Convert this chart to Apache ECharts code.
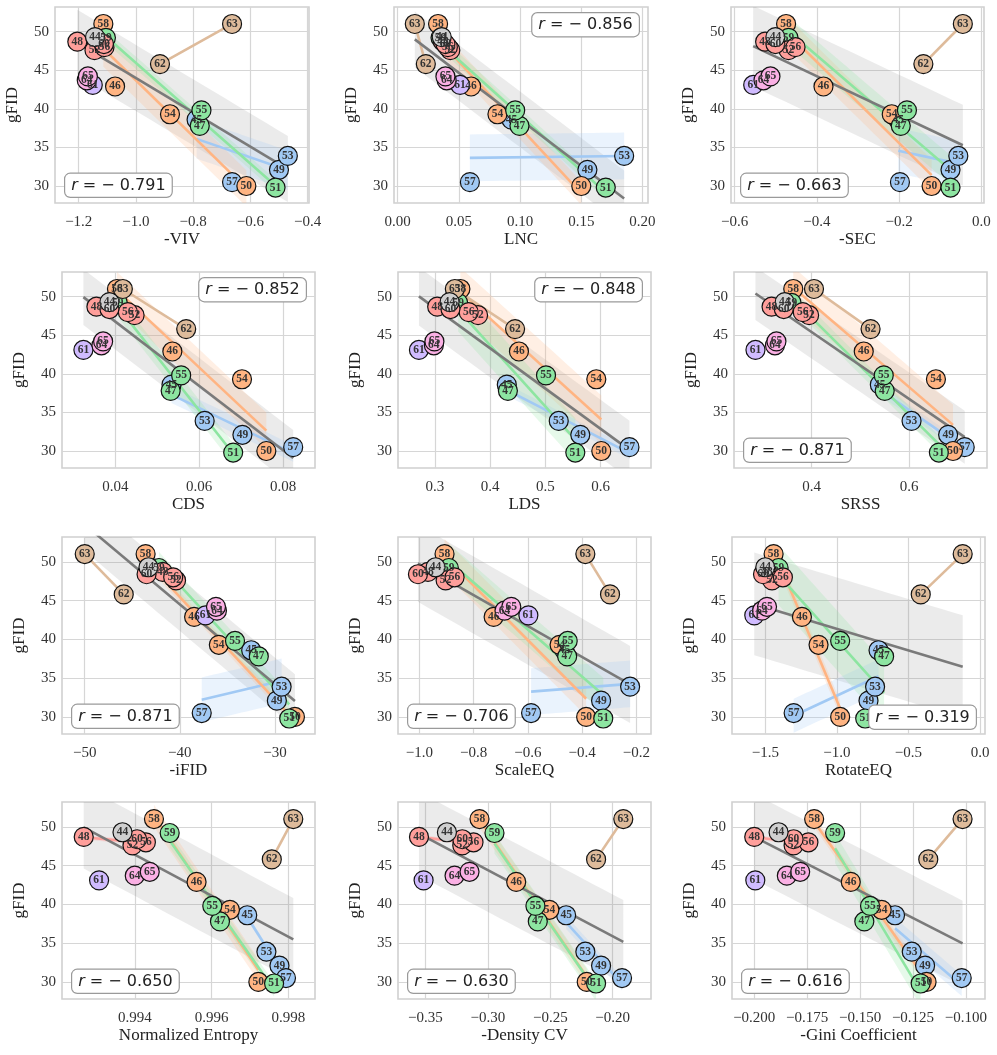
<!DOCTYPE html>
<html>
<head>
<meta charset="utf-8">
<script src="https://cdn.jsdelivr.net/npm/echarts@6/dist/echarts.min.js"></script>
<style>
  html, body { margin: 0; padding: 0; background: #fff; }
  #chart { width: 997px; height: 1055px; }
</style>
</head>
<body>
<div id="chart"></div>
<script>
// models and their gFID
const modelIds = [44, 45, 46, 47, 48, 49, 50, 51, 52, 53, 54, 55, 56, 57, 58, 59, 60, 61, 62, 63, 64, 65];
const gFID = [49.3, 38.6, 42.9, 37.8, 48.7, 32.1, 30.0, 29.8, 47.6, 33.9, 39.3, 39.8, 48.0, 30.5, 51.0, 49.2, 48.4, 43.1, 45.8, 51.0, 43.7, 44.2];
const modelGroup = ['gray', 'blue', 'orange', 'green', 'red', 'blue', 'orange', 'green', 'red', 'blue', 'orange',
  'green', 'red', 'blue', 'orange', 'green', 'red', 'purple', 'tan', 'tan', 'pink', 'pink'];

// metric values, same order as modelIds
const negVIV = [-1.143, -0.788, -1.073, -0.777, -1.205, -0.500, -0.614, -0.512, -1.145, -0.469, -0.881,
  -0.771, -1.110, -0.664, -1.114, -1.105, -1.112, -1.151, -0.916, -0.664, -1.172, -1.168];
const lnc = [0.036, 0.093, 0.060, 0.0995, 0.037, 0.155, 0.150, 0.170, 0.043, 0.185, 0.0815,
  0.096, 0.041, 0.059, 0.033, 0.035, 0.039, 0.051, 0.023, 0.014, 0.040, 0.039];
const negSEC = [-0.501, -0.202, -0.384, -0.196, -0.526, -0.075, -0.121, -0.075, -0.469, -0.056, -0.218,
  -0.181, -0.452, -0.198, -0.475, -0.469, -0.501, -0.555, -0.141, -0.045, -0.530, -0.513];
const cds = [0.0386, 0.0534, 0.0536, 0.0532, 0.0355, 0.0703, 0.0760, 0.0681, 0.0446, 0.0613, 0.0702,
  0.0557, 0.0430, 0.0824, 0.0404, 0.0406, 0.0386, 0.0324, 0.0569, 0.0418, 0.0367, 0.0371];
const lds = [0.3265, 0.430, 0.452, 0.432, 0.304, 0.563, 0.601, 0.554, 0.378, 0.524, 0.592,
  0.501, 0.361, 0.652, 0.346, 0.342, 0.328, 0.271, 0.445, 0.336, 0.298, 0.299];
const srss = [0.345, 0.540, 0.507, 0.550, 0.318, 0.680, 0.690, 0.661, 0.395, 0.605, 0.655,
  0.548, 0.382, 0.714, 0.3625, 0.359, 0.343, 0.285, 0.521, 0.405, 0.325, 0.328];
const negIFID = [-43.3, -32.5, -38.5, -31.7, -41.8, -29.8, -27.9, -28.5, -40.4, -29.3, -35.9,
  -34.2, -40.7, -37.7, -43.6, -42.2, -43.5, -37.3, -45.9, -50.0, -36.1, -36.2];
const scaleEQ = [-0.940, -0.465, -0.726, -0.455, -0.968, -0.330, -0.385, -0.322, -0.903, -0.223, -0.483,
  -0.453, -0.870, -0.588, -0.907, -0.891, -1.005, -0.598, -0.297, -0.388, -0.686, -0.661];
const rotateEQ = [-1.500, -0.709, -1.244, -0.670, -1.488, -0.779, -0.977, -0.802, -1.453, -0.733, -1.128,
  -0.977, -1.377, -1.302, -1.442, -1.407, -1.516, -1.577, -0.414, -0.121, -1.523, -1.488];
const normEntropy = [0.99368, 0.99693, 0.99561, 0.99622, 0.99267, 0.99777, 0.99722, 0.99763, 0.99394, 0.99743, 0.99648,
  0.99602, 0.99429, 0.99794, 0.99450, 0.99491, 0.99406, 0.99307, 0.99757, 0.99813, 0.99400, 0.99439];
const negDensityCV = [-0.3328, -0.2373, -0.2773, -0.2600, -0.3552, -0.2093, -0.2208, -0.2133, -0.3205, -0.2219, -0.2507,
  -0.2619, -0.3115, -0.1925, -0.3067, -0.2947, -0.3205, -0.3515, -0.2133, -0.1915, -0.3267, -0.3147];
const negGini = [-0.1885, -0.1335, -0.1544, -0.1480, -0.2000, -0.1193, -0.1186, -0.1214, -0.1814, -0.1256, -0.1398,
  -0.1453, -0.1744, -0.1020, -0.1717, -0.1618, -0.1814, -0.1995, -0.1178, -0.1016, -0.1846, -0.1783];

const metricValues = [negVIV, lnc, negSEC, cds, lds, srss, negIFID, scaleEQ, rotateEQ, normEntropy, negDensityCV, negGini];
const metricNames = ['-VIV', 'LNC', '-SEC', 'CDS', 'LDS', 'SRSS', '-iFID', 'ScaleEQ', 'RotateEQ',
  'Normalized Entropy', '-Density CV', '-Gini Coefficient'];
const rLabels = ['−0.791', '−0.856', '−0.663', '−0.852', '−0.848', '−0.871', '−0.871', '−0.706', '−0.319',
  '−0.650', '−0.630', '−0.616'];

// tick labels
const xTicks = [
  [-1.2, -1.0, -0.8, -0.6, -0.4], [0, 0.05, 0.10, 0.15, 0.20], [-0.6, -0.4, -0.2, 0],
  [0.04, 0.06, 0.08], [0.3, 0.4, 0.5, 0.6], [0.4, 0.6],
  [-50, -40, -30], [-1.0, -0.8, -0.6, -0.4, -0.2], [-1.5, -1.0, -0.5, 0],
  [0.994, 0.996, 0.998], [-0.35, -0.30, -0.25, -0.20], [-0.200, -0.175, -0.150, -0.125, -0.100]
];
const xDecimals = [1, 2, 1, 2, 1, 1, 0, 1, 1, 3, 2, 3];
const yTicks = [30, 35, 40, 45, 50];

// layout
const W = 997, H = 1055;
const xRanges = [
  [-1.283, -0.395], [-0.003, 0.2045], [-0.609, 0.0065],
  [0.0273, 0.0876], [0.2331, 0.691], [0.241, 0.7597],
  [-52.39, -25.79], [-1.0785, -0.146], [-1.7326, 0.0349],
  [0.992104, 0.998696], [-0.372, -0.1693], [-0.2105, -0.091]
];
const yRange = [27.8, 53.2];
const gridRects = [
  [55, 7, 254, 196], [394, 7, 254, 196], [731, 7, 253, 196],
  [62, 272, 253, 196], [398, 272, 253, 196], [734, 272, 253, 196],
  [62, 537, 253, 197], [398, 537, 253, 197], [732, 537, 253, 197],
  [62, 802, 253, 197], [398, 802, 253, 197], [732, 802, 253, 197]
];
const rCorner = ['bl', 'tr', 'bl', 'tr', 'tr', 'bl', 'bl', 'bl', 'br', 'bl', 'bl', 'bl'];

const groupOrder = ['blue', 'orange', 'green', 'red', 'purple', 'tan', 'pink', 'gray'];
const groupColor = {
  blue: '#a1c9f4', orange: '#ffb482', green: '#8de5a1', red: '#ff9f9b',
  purple: '#d0bbff', tan: '#debb9b', pink: '#fab0e4', gray: '#cfcfcf'
};
const bandColor = {
  blue: 'rgba(161,201,244,0.22)', orange: 'rgba(255,180,130,0.22)', green: 'rgba(141,229,161,0.22)',
  red: 'rgba(255,159,155,0.22)', purple: 'rgba(208,187,255,0.22)', tan: 'rgba(222,187,155,0.22)',
  pink: 'rgba(250,176,228,0.22)', gray: 'rgba(207,207,207,0.22)'
};

const serif = '"Liberation Serif", "DejaVu Serif", serif';

// least squares fit, band = fit ± std of residuals
function fitLine(xs, ys) {
  const n = xs.length;
  const mx = xs.reduce((a, b) => a + b, 0) / n;
  const my = ys.reduce((a, b) => a + b, 0) / n;
  let sxx = 0, sxy = 0;
  for (let i = 0; i < n; i++) {
    sxx += (xs[i] - mx) * (xs[i] - mx);
    sxy += (xs[i] - mx) * (ys[i] - my);
  }
  const b = sxy / sxx, a = my - b * mx;
  let sse = 0;
  xs.forEach((x, i) => { const e = ys[i] - (a + b * x); sse += e * e; });
  return { a, b, xs, sd: Math.sqrt(sse / n) };
}
function bandData(f) {
  const lo = Math.min(...f.xs), hi = Math.max(...f.xs);
  const out = [];
  for (let k = 0; k <= 20; k++) {
    const x = lo + (hi - lo) * k / 20;
    const y = f.a + f.b * x;
    out.push([x, y - f.sd, y + f.sd]);
  }
  return out;
}
function bandSeries(idx, data, color, z) {
  return {
    type: 'custom', xAxisIndex: idx, yAxisIndex: idx, silent: true, z: z, clip: true,
    data: data, encode: { x: 0, y: [1, 2] },
    renderItem: function (params, api) {
      if (params.dataIndex !== 0) return null;
      const up = data.map(d => api.coord([d[0], d[2]]));
      const dn = data.slice().reverse().map(d => api.coord([d[0], d[1]]));
      const cs = params.coordSys;
      return {
        type: 'polygon', shape: { points: up.concat(dn) }, style: { fill: color },
        clipPath: { type: 'rect', shape: { x: cs.x, y: cs.y, width: cs.width, height: cs.height } }
      };
    }
  };
}
function lineSeries(idx, f, color, z) {
  const lo = Math.min(...f.xs), hi = Math.max(...f.xs);
  return {
    type: 'line', xAxisIndex: idx, yAxisIndex: idx, silent: true, z: z, showSymbol: false, symbol: 'none',
    data: [[lo, f.a + f.b * lo], [hi, f.a + f.b * hi]],
    lineStyle: { color: color, width: 2.6 }
  };
}

const grids = [], xAxes = [], yAxes = [], series = [], graphics = [];

metricValues.forEach((xs, i) => {
  const [gl, gt, gw, gh] = gridRects[i];
  grids.push({
    left: gl, top: gt, width: gw, height: gh, show: true,
    borderColor: '#d0d0d0', borderWidth: 1.6, backgroundColor: '#fff'
  });
  const dec = xDecimals[i];
  xAxes.push({
    gridIndex: i, type: 'value', min: xRanges[i][0], max: xRanges[i][1],
    name: metricNames[i], nameLocation: 'middle', nameGap: 27,
    nameTextStyle: { fontFamily: serif, fontSize: 17, color: '#222' },
    axisLine: { show: false },
    axisTick: { show: false, customValues: xTicks[i] },
    axisLabel: {
      customValues: xTicks[i], margin: 12, fontFamily: serif, fontSize: 15, color: '#333',
      formatter: v => v.toFixed(dec).replace('-', '−')
    },
    splitLine: { show: true, lineStyle: { color: '#d6d6d6', width: 1.2 } }
  });
  yAxes.push({
    gridIndex: i, type: 'value', min: yRange[0], max: yRange[1],
    name: 'gFID', nameLocation: 'middle', nameGap: 34,
    nameTextStyle: { fontFamily: serif, fontSize: 17, color: '#222' },
    axisLine: { show: false },
    axisTick: { show: false, customValues: yTicks },
    axisLabel: { customValues: yTicks, margin: 6, fontFamily: serif, fontSize: 15, color: '#333' },
    splitLine: { show: true, lineStyle: { color: '#d6d6d6', width: 1.2 } }
  });

  // overall regression
  const all = fitLine(xs, gFID);
  series.push(bandSeries(i, bandData(all), 'rgba(128,128,128,0.16)', 1));

  // per-group regressions
  const groupFits = [];
  groupOrder.forEach(g => {
    const idx = modelIds.map((_, k) => k).filter(k => modelGroup[k] === g);
    if (idx.length < 2) return;
    const f = fitLine(idx.map(k => xs[k]), idx.map(k => gFID[k]));
    groupFits.push([g, f]);
    if (idx.length >= 3) series.push(bandSeries(i, bandData(f), bandColor[g], 2));
  });
  groupFits.forEach(([g, f]) => series.push(lineSeries(i, f, groupColor[g], 3)));
  series.push(lineSeries(i, all, '#7a7a7a', 4));

  // points
  const pts = [];
  groupOrder.forEach(g => {
    modelIds.forEach((id, k) => {
      if (modelGroup[k] !== g) return;
      pts.push({ name: String(id), value: [xs[k], gFID[k]], itemStyle: { color: groupColor[g] } });
    });
  });
  series.push({
    type: 'scatter', xAxisIndex: i, yAxisIndex: i, z: 5, silent: true,
    symbol: 'circle', symbolSize: 19, data: pts,
    itemStyle: { borderColor: '#111', borderWidth: 1.2, opacity: 1 },
    label: {
      show: true, position: 'inside', formatter: '{b}',
      fontFamily: serif, fontWeight: 'bold', fontSize: 11.5, color: '#333'
    }
  });

  // r annotation
  const box = {
    type: 'text', z: 100,
    style: {
      text: '{i|r} = − ' + rLabels[i].slice(1),
      fontFamily: '"DejaVu Sans", sans-serif', fontSize: 16, fill: '#222',
      rich: { i: { fontFamily: '"DejaVu Sans", sans-serif', fontStyle: 'italic', fontSize: 16, color: '#222' } },
      backgroundColor: '#fff', borderColor: '#9a9a9a', borderWidth: 1.2, borderRadius: 5,
      padding: [4, 6, 3, 6]
    }
  };
  const c = rCorner[i];
  if (c === 'bl') { box.left = gl + 9; box.bottom = H - (gt + gh) + 5; }
  else if (c === 'tr') { box.right = W - (gl + gw) + 8; box.top = gt + 5; }
  else { box.right = W - (gl + gw) + 8; box.bottom = H - (gt + gh) + 4; }
  graphics.push(box);
});

const chart = echarts.init(document.getElementById('chart'), null, { renderer: 'canvas' });
chart.setOption({
  animation: false,
  backgroundColor: '#fff',
  grid: grids,
  xAxis: xAxes,
  yAxis: yAxes,
  series: series,
  graphic: graphics
});
</script>
</body>
</html>
